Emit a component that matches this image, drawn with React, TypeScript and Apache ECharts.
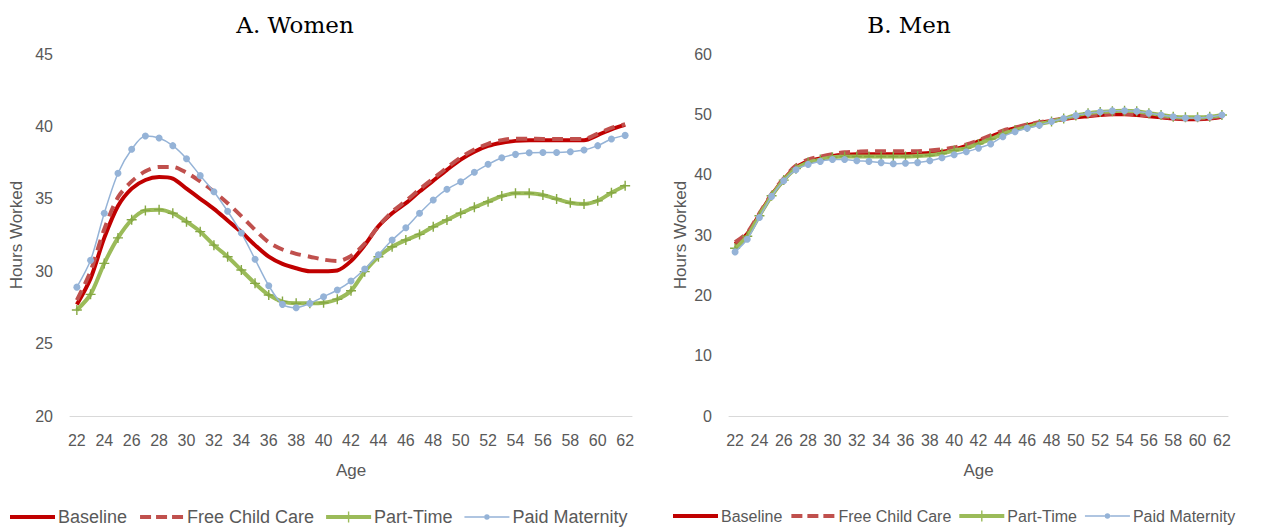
import React, { useEffect, useRef } from "react";
import * as echarts from "echarts";

const ages = ["22","23","24","25","26","27","28","29","30","31","32","33","34","35","36","37","38","39","40","41","42","43","44","45","46","47","48","49","50","51","52","53","54","55","56","57","58","59","60","61","62"];

const seriesNames = ["Baseline", "Free Child Care", "Part-Time", "Paid Maternity"];

const womenBaseline = [27.7, 29.5, 32.3, 34.5, 35.7, 36.3, 36.5, 36.4, 35.7, 35.0, 34.3, 33.5, 32.7, 31.8, 31.0, 30.5, 30.2, 30.0, 30.0, 30.05, 30.7, 31.8, 33.1, 34.0, 34.7, 35.5, 36.25, 37.0, 37.7, 38.25, 38.65, 38.87, 39.0, 39.05, 39.05, 39.05, 39.05, 39.05, 39.4, 39.8, 40.1];
const womenFreeChildCare = [28.0, 30.0, 32.9, 35.1, 36.2, 36.9, 37.2, 37.2, 36.8, 36.2, 35.5, 34.7, 33.8, 32.85, 32.0, 31.5, 31.2, 31.0, 30.8, 30.7, 31.05, 31.9, 33.1, 34.1, 34.85, 35.65, 36.4, 37.15, 37.85, 38.4, 38.8, 39.05, 39.15, 39.15, 39.13, 39.13, 39.13, 39.13, 39.5, 39.9, 40.15];
const womenPartTime = [27.32, 28.4, 30.54, 32.3, 33.55, 34.2, 34.25, 34.0, 33.42, 32.73, 31.8, 31.0, 30.08, 29.16, 28.36, 27.9, 27.78, 27.78, 27.82, 28.06, 28.65, 29.97, 31.0, 31.69, 32.15, 32.54, 33.07, 33.54, 34.0, 34.41, 34.8, 35.19, 35.38, 35.38, 35.26, 34.99, 34.73, 34.64, 34.87, 35.42, 35.9];
const womenPaidMaternity = [28.9, 30.75, 34.0, 36.76, 38.42, 39.34, 39.2, 38.67, 37.77, 36.6, 35.49, 34.14, 32.64, 30.82, 29.0, 27.71, 27.48, 27.78, 28.24, 28.7, 29.32, 30.15, 31.14, 32.15, 33.0, 34.0, 34.92, 35.66, 36.18, 36.83, 37.38, 37.84, 38.07, 38.18, 38.2, 38.2, 38.25, 38.37, 38.67, 39.13, 39.38];

const menBaseline = [28.5, 30.2, 33.4, 36.6, 39.2, 41.2, 42.2, 42.7, 43.1, 43.3, 43.4, 43.4, 43.4, 43.4, 43.4, 43.5, 43.6, 43.8, 44.2, 44.75, 45.5, 46.3, 47.1, 47.7, 48.2, 48.6, 48.9, 49.2, 49.5, 49.7, 49.9, 50.0, 50.0, 49.9, 49.7, 49.5, 49.3, 49.2, 49.2, 49.3, 49.6];
const menFreeChildCare = [28.8, 30.4, 33.6, 36.8, 39.4, 41.5, 42.5, 43.0, 43.4, 43.7, 43.8, 43.9, 43.9, 43.9, 43.9, 43.9, 44.0, 44.2, 44.5, 45.0, 45.7, 46.5, 47.3, 47.8, 48.3, 48.7, 49.0, 49.3, 49.6, 49.8, 50.0, 50.1, 50.1, 50.0, 49.8, 49.6, 49.4, 49.3, 49.3, 49.4, 49.7];
const menPartTime = [27.8, 29.8, 33.2, 36.5, 39.1, 41.0, 42.0, 42.5, 42.9, 43.0, 43.0, 43.0, 43.0, 43.0, 43.0, 43.1, 43.2, 43.5, 44.0, 44.4, 45.1, 45.9, 46.7, 47.4, 47.9, 48.4, 48.8, 49.3, 49.8, 50.2, 50.4, 50.5, 50.6, 50.5, 50.2, 49.9, 49.6, 49.5, 49.5, 49.6, 49.9];
const menPaidMaternity = [27.2, 29.3, 32.9, 36.4, 39.0, 40.8, 41.7, 42.2, 42.5, 42.5, 42.3, 42.2, 42.0, 41.8, 41.9, 42.0, 42.3, 42.8, 43.3, 43.8, 44.4, 45.1, 46.3, 47.1, 47.7, 48.2, 48.8, 49.3, 49.8, 50.2, 50.4, 50.6, 50.6, 50.5, 50.2, 49.9, 49.6, 49.4, 49.4, 49.6, 49.9];

const FONT = "'Liberation Sans', sans-serif";
const GRAY = "#595959";
const C_BASE = "#C00000";
const C_FCC = "#C0504D";
const C_PT = "#9BBB59";
const C_PT_MARK = "#86A844";
const C_PM = "#95B3D7";
const PLUS = "path://M4.3,0 L5.7,0 L5.7,4.3 L10,4.3 L10,5.7 L5.7,5.7 L5.7,10 L4.3,10 L4.3,5.7 L0,5.7 L0,4.3 L4.3,4.3 Z";

const BOX = "M0,0 L0,0 M45,14 L45,14 ";
const ICON_BASE = "path://" + BOX + "M0,5 L45,5 L45,9 L0,9 Z";
const ICON_FCC = "path://" + BOX + "M1,5 L12,5 L12,9 L1,9 Z M17,5 L28,5 L28,9 L17,9 Z M33,5 L44,5 L44,9 L33,9 Z";
const ICON_PT = "path://" + BOX + "M0,5 L45,5 L45,9 L0,9 Z M21.8,1.5 L23.2,1.5 L23.2,5 L21.8,5 Z M21.8,9 L23.2,9 L23.2,12.5 L21.8,12.5 Z";
const ICON_PM = "path://" + BOX + "M0,6.3 L19.8,6.3 L19.8,7.7 L0,7.7 Z M25.2,6.3 L45,6.3 L45,7.7 L25.2,7.7 Z M19.8,7 A2.7,2.7 0 1,1 25.2,7 A2.7,2.7 0 1,1 19.8,7 Z";

function makeSeries(idx: number, data: number[][]) {
  const [b, f, p, m] = data;
  return [
    {
      name: seriesNames[0], type: "line", xAxisIndex: idx, yAxisIndex: idx, data: b,
      smooth: 0.3, symbol: "none", z: 2,
      lineStyle: { color: C_BASE, width: 4 }, itemStyle: { color: C_BASE },
    },
    {
      name: seriesNames[1], type: "line", xAxisIndex: idx, yAxisIndex: idx, data: f,
      smooth: 0.3, symbol: "none", z: 3,
      lineStyle: { color: C_FCC, width: 4, type: [11, 7] }, itemStyle: { color: C_FCC },
    },
    {
      name: seriesNames[2], type: "line", xAxisIndex: idx, yAxisIndex: idx, data: p,
      smooth: 0.3, symbol: PLUS, symbolSize: 10, showAllSymbol: true, z: 4,
      lineStyle: { color: C_PT, width: 4 }, itemStyle: { color: C_PT_MARK },
    },
    {
      name: seriesNames[3], type: "line", xAxisIndex: idx, yAxisIndex: idx, data: m,
      smooth: 0.3, symbol: "circle", symbolSize: 7, showAllSymbol: true, z: 5,
      lineStyle: { color: C_PM, width: 1.5 }, itemStyle: { color: C_PM },
    },
  ];
}

function xAxis(gridIndex: number) {
  return {
    type: "category", gridIndex, data: ages, boundaryGap: true,
    name: "Age", nameLocation: "middle", nameGap: 46,
    nameTextStyle: { color: GRAY, fontFamily: FONT, fontSize: 17 },
    axisLine: { show: true, lineStyle: { color: "#D9D9D9", width: 1 } },
    axisTick: { show: false },
    axisLabel: { interval: 1, color: GRAY, fontFamily: FONT, fontSize: 16, margin: 16 },
    splitLine: { show: false },
  };
}

function yAxis(gridIndex: number, min: number, max: number, interval: number, gap: number) {
  return {
    type: "value", gridIndex, min, max, interval,
    name: "Hours Worked", nameLocation: "middle", nameGap: gap, nameRotate: 90,
    nameTextStyle: { color: GRAY, fontFamily: FONT, fontSize: 17 },
    axisLine: { show: false }, axisTick: { show: false },
    axisLabel: { color: GRAY, fontFamily: FONT, fontSize: 16, margin: 17 },
    splitLine: { show: false },
  };
}

function legend(left: number, fontSize: number, itemWidth: number, gap: number) {
  return {
    data: [
      { name: seriesNames[0], icon: ICON_BASE, itemStyle: { color: C_BASE, borderWidth: 0 } },
      { name: seriesNames[1], icon: ICON_FCC, itemStyle: { color: C_FCC, borderWidth: 0 } },
      { name: seriesNames[2], icon: ICON_PT, itemStyle: { color: C_PT, borderWidth: 0 } },
      { name: seriesNames[3], icon: ICON_PM, itemStyle: { color: C_PM, borderWidth: 0 } },
    ],
    left, top: 503, width: 640, itemWidth, itemHeight: 14, itemGap: gap,
    textStyle: { color: GRAY, fontFamily: FONT, fontSize, padding: [0, 0, 0, -2] },
  };
}

export default function App() {
  const ref = useRef<HTMLDivElement>(null);
  useEffect(() => {
    if (!ref.current) return;
    const chart = echarts.init(ref.current, undefined, { renderer: "svg" });
    chart.setOption({
      animation: false,
      backgroundColor: "#ffffff",
      grid: [
        { left: 70, width: 562, top: 54, bottom: 111 },
        { left: 729, width: 499, top: 54, bottom: 111 },
      ],
      xAxis: [xAxis(0), xAxis(1)],
      yAxis: [yAxis(0, 20, 45, 5, 45), yAxis(1, 0, 60, 10, 40)],
      legend: [legend(5, 18, 45, 12), legend(668, 16, 45, 8)],
      graphic: [
        { type: "text", x: 295, y: 25, style: { text: "A. Women", textAlign: "center", textVerticalAlign: "middle", font: "23px 'DejaVu Serif', serif", fill: "#000" } },
        { type: "text", x: 909, y: 25, style: { text: "B. Men", textAlign: "center", textVerticalAlign: "middle", font: "23px 'DejaVu Serif', serif", fill: "#000" } },
      ],
      series: [
        ...makeSeries(0, [womenBaseline, womenFreeChildCare, womenPartTime, womenPaidMaternity]),
        ...makeSeries(1, [menBaseline, menFreeChildCare, menPartTime, menPaidMaternity]),
      ],
    });
    return () => chart.dispose();
  }, []);
  return <div ref={ref} style={{ width: 1261, height: 527, position: "absolute", left: 0, top: 0 }} />;
}
